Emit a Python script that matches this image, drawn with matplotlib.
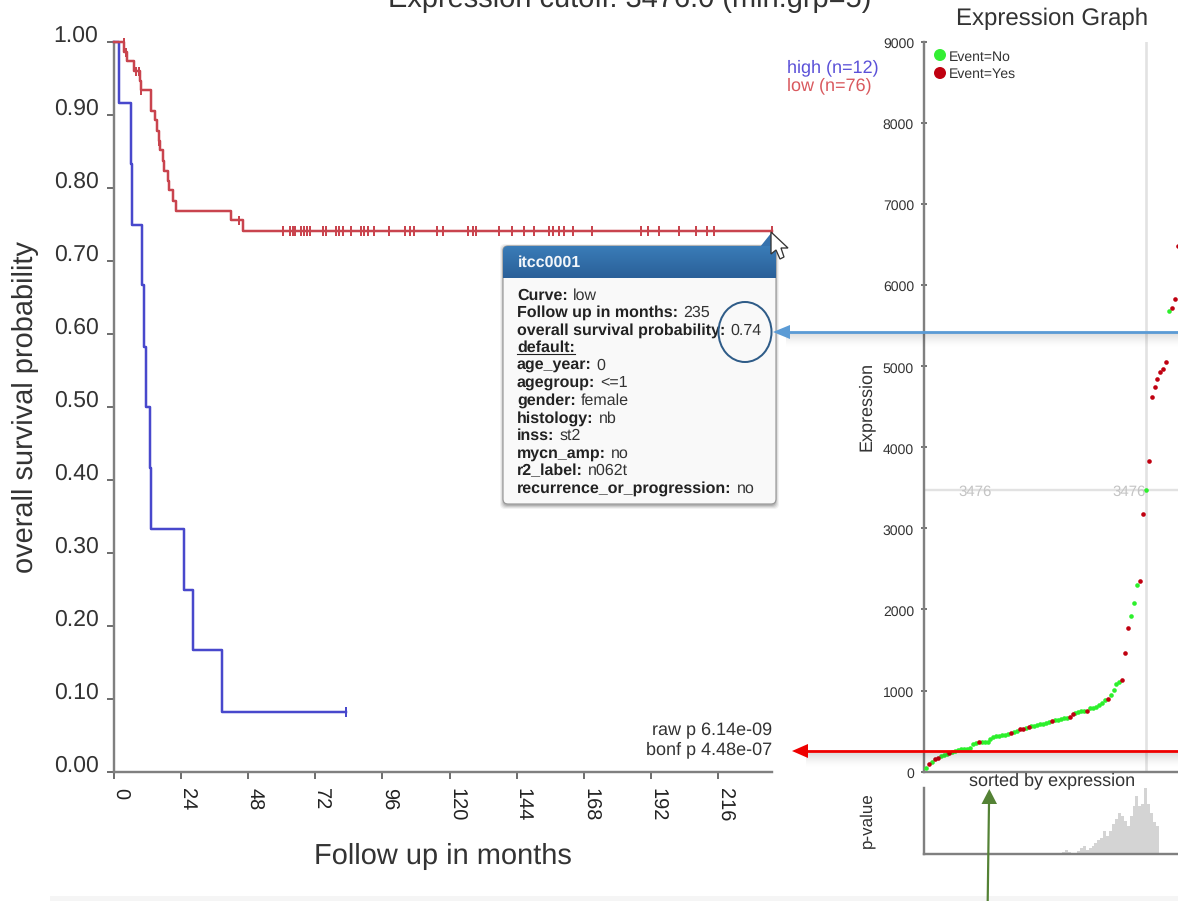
import numpy as np
import matplotlib
matplotlib.use('Agg')
import matplotlib.pyplot as plt
from matplotlib.patches import FancyBboxPatch, Ellipse, Polygon, Rectangle
from matplotlib.transforms import ScaledTranslation

plt.rcParams['font.family'] = ['Liberation Sans', 'DejaVu Sans']
plt.rcParams['text.hinting'] = 'no_hinting'
plt.rcParams['text.hinting_factor'] = 1

# ---------- survival data ----------
high_times = [0, 1.9, 6, 6.4, 9.9, 10.7, 11.4, 12.9, 13.2, 25, 28.3, 38.6, 83]
high_surv = [1.0, .917, .833, .75, .667, .583, .5, .417, .333, .25, .167, .083, .083]
low_times = [0, 3.6, 4.8, 7.3, 9.3, 9.8, 13.1, 13.2, 14.7, 15.5, 16.1, 16.4, 17.4, 17.9,
             19.2, 19.7, 21.1, 22.1, 41.8, 46.3, 235.3]
low_surv = [1.0, .987, .975, .961, .947, .934, .920, .906, .893, .879, .865, .852, .838,
            .824, .810, .797, .783, .769, .756, .742, .742]
early_censor_times = [3.6, 4.4, 7.9, 8.8, 9.8, 13.1, 16.1, 44.6]
early_censor_surv = [1.0, .987, .961, .961, .934, .920, .865, .756]
late_censor_times = [60.4, 63.1, 64.0, 64.9, 66.7, 67.9, 68.9, 70.0, 74.6, 75.8, 79.4, 80.6,
                     81.8, 84.9, 88.2, 89.5, 90.7, 93.1, 98.2, 104.2, 106.0, 107.3, 115.5,
                     117.5, 126.6, 128.4, 129.6, 137.6, 142.4, 146.6, 150.2, 155.7, 156.9,
                     159.1, 161.1, 164.2, 170.8, 188.6, 190.8, 195.0, 202.0, 208.3, 212.0,
                     214.6, 235.3]
late_censor_surv = [.742] * len(late_censor_times)
surv_yticks = [0, .1, .2, .3, .4, .5, .6, .7, .8, .9, 1.0]
surv_ylabels = ['0.00', '0.10', '0.20', '0.30', '0.40', '0.50', '0.60', '0.70', '0.80', '0.90', '1.00']
surv_xticks = [0, 24, 48, 72, 96, 120, 144, 168, 192, 216]

# ---------- expression data (sorted) ----------
expression = [42, 99, 124, 161, 173, 198, 206, 214, 227, 243, 256, 272, 284, 284, 284, 297,
              338, 358, 371, 371, 371, 371, 399, 424, 445, 445, 449, 453, 461, 478, 494, 502,
              531, 531, 543, 551, 564, 568, 572, 584, 593, 597, 609, 625, 638, 642, 654, 662,
              667, 675, 712, 728, 736, 745, 753, 753, 786, 790, 802, 819, 851, 884, 893, 946,
              1008, 1078, 1102, 1127, 1468, 1776, 1920, 2080, 2298, 2356, 3182, 3476, 3831,
              4624, 4747, 4842, 4928, 4965, 5056, 5684, 5721, 5828, 6482]
event_yes = [1, 3, 4, 8, 18, 29, 32, 33, 35, 43, 49, 50, 55, 62, 67, 68, 69, 73, 74,
             76, 77, 78, 79, 80, 81, 82, 84, 85, 86]
expr_yticks = [0, 1000, 2000, 3000, 4000, 5000, 6000, 7000, 8000, 9000]
cutoff_value = 3476
cutoff_index = 75

pvalue_index = [47, 48, 49, 50, 51, 52, 53, 54, 55, 56, 57, 58, 59, 60, 61, 62, 63, 64, 65,
                66, 67, 68, 69, 70, 71, 72, 73, 74, 75, 76, 77, 78, 79]
pvalue_height = [.13, .46, .21, 0, 0, .34, .67, .96, .46, .67, .96, 1.26, 1.68, 2.01, 2.85,
                 2.22, 2.85, 3.69, 4.32, 5.15, 4.73, 4.11, 3.48, 4.73, 5.99, 7.25, 5.99, 6.20,
                 8.21, 6.20, 5.15, 3.90, 3.48]

tooltip_labels = ['Curve:', 'Follow up in months:', 'overall survival probability:', 'default:',
                  'age_year:', 'agegroup:', 'gender:', 'histology:', 'inss:', 'mycn_amp:',
                  'r2_label:', 'recurrence_or_progression:']
tooltip_values = ['low', '235', '0.74', '', '0', '<=1', 'female', 'nb', 'st2', 'no', 'n062t', 'no']

W, H = 1178, 901
fig = plt.figure(figsize=(W / 100, H / 100), dpi=100, facecolor='white')
PX = 0.72  # points per pixel


def axes_px(left, top, right, bottom, **kw):
    return fig.add_axes([left / W, 1 - bottom / H, (right - left) / W, (bottom - top) / H], **kw)


AX_GRAY = '#808080'
BLUE = '#4848cc'
RED = '#c9444e'

# ---------- survival panel ----------
ax = axes_px(114, 42.3, 771.7, 772.3)
ax.set_xlim(0, 235.2)
ax.set_ylim(0, 1)
ax.step(high_times, high_surv, where='post', color=BLUE, lw=2.5 * PX, clip_on=False)
ax.plot([83], [.083], ls='', marker='|', ms=10 * PX, mew=2 * PX, color=BLUE, clip_on=False)
ax.step(low_times, low_surv, where='post', color=RED, lw=2.5 * PX, clip_on=False, zorder=3)
ax.plot(early_censor_times, early_censor_surv, ls='', marker='|', ms=9 * PX, mew=2 * PX,
        color=RED, clip_on=False, zorder=3)
ax.plot(late_censor_times, late_censor_surv, ls='', marker='|', ms=9.5 * PX, mew=2 * PX,
        color=RED, clip_on=False, zorder=3)
for s in ('top', 'right'):
    ax.spines[s].set_visible(False)
for s in ('left', 'bottom'):
    ax.spines[s].set_color(AX_GRAY)
    ax.spines[s].set_linewidth(2.4 * PX)
ax.set_yticks(surv_yticks)
ax.set_yticklabels(surv_ylabels)
ax.set_xticks(surv_xticks)
ax.set_xticklabels([str(v) for v in surv_xticks], rotation=-90, ha='center', va='top')
ax.tick_params(axis='y', length=7 * PX, width=2 * PX, color='#707070', labelsize=16.6,
               labelcolor='#333333', pad=8.5 * PX)
ax.tick_params(axis='x', length=7 * PX, width=2 * PX, color='#707070', labelsize=14.5,
               labelcolor='#222222', pad=9 * PX)
shift_x = ScaledTranslation(6 / 100, 0, fig.dpi_scale_trans)
for lab in ax.get_xticklabels():
    lab.set_transform(lab.get_transform() + shift_x)
shift_y = ScaledTranslation(0, 8.5 / 100, fig.dpi_scale_trans)
for lab in ax.get_yticklabels():
    lab.set_transform(lab.get_transform() + shift_y)

# ---------- expression panel ----------
ax2 = axes_px(924, 41.7, 1178, 771.7)
ax2.set_xlim(-2 / 2.93, 252 / 2.93)
ax2.set_ylim(0, 9000)
ax2.axvline(cutoff_index, color='#e2e2e2', lw=2.6 * PX, zorder=1)
ax2.axhline(cutoff_value, color='#e2e2e2', lw=2.4 * PX, zorder=1)
idx = np.arange(len(expression))
expr = np.array(expression)
is_yes = np.isin(idx, event_yes)
ax2.scatter(idx[~is_yes], expr[~is_yes], s=(4.6 * PX) ** 2, color='#2cf02c', lw=0, zorder=3)
ax2.scatter(idx[is_yes], expr[is_yes], s=(4.6 * PX) ** 2, color='#c00010', lw=0, zorder=4)
for s in ('top', 'right'):
    ax2.spines[s].set_visible(False)
for s in ('left', 'bottom'):
    ax2.spines[s].set_color(AX_GRAY)
    ax2.spines[s].set_linewidth(2.4 * PX)
ax2.set_xticks([])
ax2.set_yticks(expr_yticks)
ax2.tick_params(axis='y', direction='inout', length=6 * PX, width=1.6 * PX, color='#555555',
                labelsize=10, labelcolor='#333333', pad=7 * PX)
shift_r = ScaledTranslation(0, -1.2 / 100, fig.dpi_scale_trans)
for lab in ax2.get_yticklabels():
    lab.set_transform(lab.get_transform() + shift_r)

# ---------- p-value panel ----------
ax3 = axes_px(924, 787.5, 1178, 853.5)
ax3.set_xlim(-2 / 2.93, 252 / 2.93)
ax3.set_ylim(0, 8.3)
ax3.bar(pvalue_index, pvalue_height, width=1.03, color='#d4d4d4', lw=0)
for s in ('top', 'right'):
    ax3.spines[s].set_visible(False)
for s in ('left', 'bottom'):
    ax3.spines[s].set_color(AX_GRAY)
    ax3.spines[s].set_linewidth(2.4 * PX)
ax3.set_xticks([])
ax3.set_yticks([])

# ---------- overlay in pixel coordinates ----------
ov = fig.add_axes([0, 0, 1, 1], zorder=10)
ov.set_xlim(0, W)
ov.set_ylim(H, 0)
ov.axis('off')
ov.patch.set_visible(False)

ov.text(630, -1, 'Expression cutoff: 3476.0 (min.grp=5)', fontsize=21, color='#333333',
        ha='center', va='center')
ov.text(443, 856, 'Follow up in months', fontsize=21, color='#333333', ha='center', va='center')
ov.text(25, 407, 'overall survival probability', fontsize=21, color='#333333', rotation=90,
        ha='center', va='center')
ov.text(787, 68, 'high (n=12)', fontsize=12.8, color='#5a50d8', va='center')
ov.text(787, 86, 'low (n=76)', fontsize=12.8, color='#d9595e', va='center')
ov.text(771.7, 731, 'raw p 6.14e-09', fontsize=12.8, color='#333333', ha='right', va='center')
ov.text(771.7, 750, 'bonf p 4.48e-07', fontsize=12.8, color='#333333', ha='right', va='center')

ov.text(1052, 19, 'Expression Graph', fontsize=17, color='#333333', ha='center', va='center')
ov.text(866, 406, 'Expression', fontsize=13, color='#333333', rotation=90, ha='center', va='center')
ov.text(1052.5, 781, 'sorted by expression', fontsize=12.8, color='#333333', ha='center', va='center')
ov.text(867, 820.5, 'p-value', fontsize=12.3, color='#333333', rotation=90, ha='center', va='center')
ov.add_patch(Ellipse((940, 55), 12, 12, color='#33ee33', lw=0))
ov.add_patch(Ellipse((940, 73), 12, 12, color='#c00010', lw=0))
ov.text(949, 57, 'Event=No', fontsize=10.3, color='#333333', va='center')
ov.text(949, 74.5, 'Event=Yes', fontsize=10.3, color='#333333', va='center')
ov.text(975, 491.5, '3476', fontsize=11, color='#c4c4c4', ha='center', va='center')
ov.text(1129.5, 491.5, '3476', fontsize=11, color='#c4c4c4', ha='center', va='center')

# tooltip
for d, a in ((4, .05), (3, .07), (2, .09), (1, .12)):
    ov.add_patch(FancyBboxPatch((503 - d + 1, 246 - d + 2), 273 + 2 * d - 2, 258 + 2 * d - 1,
                                boxstyle='round,pad=0,rounding_size=5', fc='black', alpha=a, lw=0))
body = FancyBboxPatch((503, 246), 273, 258, boxstyle='round,pad=0,rounding_size=5',
                      fc='#f9f9f9', ec='#9a9a9a', lw=1.2 * PX, zorder=2)
ov.add_patch(body)
ov.add_patch(Polygon([(760, 247), (772, 232), (776, 247)], closed=True, fc='#3672ad', lw=0, zorder=2))
grad = np.linspace(0, 1, 32)[:, None]
c0 = np.array([0x3a, 0x7c, 0xb8]) / 255
c1 = np.array([0x2a, 0x60, 0x98]) / 255
img = (c0[None, None, :] * (1 - grad[..., None]) + c1[None, None, :] * grad[..., None])
im = ov.imshow(img, extent=(503, 776, 278, 246), aspect='auto', zorder=3, interpolation='bilinear')
im.set_clip_path(FancyBboxPatch((503, 246), 273, 60, boxstyle='round,pad=0,rounding_size=5',
                                transform=ov.transData))
ov.set_xlim(0, W)
ov.set_ylim(H, 0)
ov.text(518, 262.5, 'itcc0001', fontsize=11.3, fontweight='bold', color='#f2f6fa', va='center', zorder=4)

renderer = fig.canvas.get_renderer()
y0, dy = 299.5, 17.55
for i, (lab, val) in enumerate(zip(tooltip_labels, tooltip_values)):
    y = y0 + i * dy
    t = ov.text(517, y, lab, fontsize=11.4, fontweight='bold', color='#222222', va='baseline', zorder=4)
    x1 = t.get_window_extent(renderer).x1
    if lab == 'default:':
        ov.plot([517, x1], [y + 2, y + 2], color='#222222', lw=1.1 * PX, zorder=4)
    if val:
        ov.text(x1 + 5, y, val, fontsize=11.4, color='#333333', va='baseline', zorder=4)

ov.add_patch(Ellipse((745, 332), 53, 60, fc='none', ec='#2f5c88', lw=2 * PX, zorder=5))

# arrows with soft shadows
for k in range(14):
    a = 0.13 * (1 - k / 14) ** 1.5
    ov.add_patch(Rectangle((786, 333 + k), 392, 1, fc='black', alpha=a, lw=0, zorder=5))
    ov.add_patch(Rectangle((806, 752.5 + k), 372, 1, fc='black', alpha=a, lw=0, zorder=5))
ov.plot([788, 1178], [332, 332], color='#5b9bd5', lw=2.8 * PX, zorder=6, solid_capstyle='butt')
ov.add_patch(Polygon([(773, 332), (790, 325), (790, 339)], closed=True, fc='#5b9bd5', lw=0, zorder=6))
ov.plot([806, 1178], [751, 751], color='#ee0000', lw=2.8 * PX, zorder=6, solid_capstyle='butt')
ov.add_patch(Polygon([(792, 751), (808, 744), (808, 758)], closed=True, fc='#ee0000', lw=0, zorder=6))
ov.plot([987.7, 989], [901, 803], color='#548235', lw=2.2 * PX, zorder=6, solid_capstyle='butt')
ov.add_patch(Polygon([(989.3, 789), (981.5, 804), (997, 804)], closed=True, fc='#548235', lw=0, zorder=6))

# mouse cursor
ov.add_patch(Polygon([(771, 232), (771, 254), (776, 250), (780, 259), (784, 257), (781, 248), (788, 248)],
                     closed=True, fc='white', ec='#333333', lw=1.3 * PX, zorder=7))

# page band at the bottom
ov.add_patch(Rectangle((50, 896), 1128, 5, fc='#f5f5f5', lw=0, zorder=1))

fig.savefig('out.png', dpi=100)
